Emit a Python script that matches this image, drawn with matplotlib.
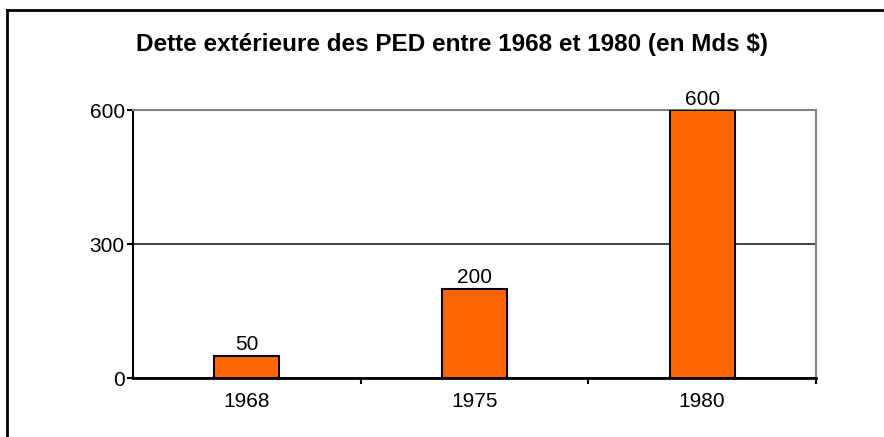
import matplotlib
matplotlib.use("Agg")
import matplotlib.pyplot as plt
from matplotlib.lines import Line2D

categories = ["1968", "1975", "1980"]
values = [50, 200, 600]
yticks = [0, 300, 600]
title = "Dette extérieure des PED entre 1968 et 1980 (en Mds $)"

plt.rcParams['font.family'] = ['Liberation Sans', 'DejaVu Sans']

W, H = 884, 437
fig = plt.figure(figsize=(W / 100, H / 100), dpi=100)
ax = fig.add_axes([133 / W, 1 - 378 / H, (816 - 133) / W, (378 - 110) / H])

x = list(range(len(categories)))
bars = ax.bar(x, values, width=0.285, color="#FF6600", edgecolor="black", linewidth=1.5, zorder=3)
for xi, v in zip(x, values):
    ax.annotate(str(v), (xi, v), xytext=(0, 1), textcoords="offset points",
                ha="center", va="bottom", fontsize=15, color="black")

ax.set_xlim(-0.5, len(categories) - 0.5)
ax.set_ylim(0, 600)
ax.set_yticks(yticks)
ax.set_yticklabels([str(t) for t in yticks], fontsize=15)
ax.set_xticks(x)
ax.set_xticklabels(categories, fontsize=15)
ax.tick_params(axis="x", length=0, pad=10)
ax.tick_params(axis="y", length=4, width=1.5, pad=2, direction="out")
# boundary ticks on x axis
ax.set_xticks([i + 0.5 for i in x], minor=True)
ax.tick_params(axis="x", which="minor", length=4, width=1.5, direction="out")

ax.yaxis.grid(True, color="#222222", linewidth=1.2, zorder=0)
ax.set_axisbelow(True)
ax.spines["left"].set_color("black")
ax.spines["left"].set_linewidth(1.5)
ax.spines["bottom"].set_color("black")
ax.spines["bottom"].set_linewidth(2)
ax.spines["top"].set_color("#808080")
ax.spines["top"].set_linewidth(1.5)
ax.spines["right"].set_color("#808080")
ax.spines["right"].set_linewidth(1.5)

fig.text(452 / W, 1 - 51 / H, title, ha="center", va="baseline", fontsize=17.5, fontweight="bold")

# outer frame (left and top edges visible)
fig.add_artist(Line2D([7.5 / W, 7.5 / W], [0, 1 - 9.5 / H], transform=fig.transFigure, color="black", linewidth=2))
fig.add_artist(Line2D([7.5 / W, 1], [1 - 9.5 / H, 1 - 9.5 / H], transform=fig.transFigure, color="black", linewidth=2))

fig.savefig("out.png", dpi=100)
